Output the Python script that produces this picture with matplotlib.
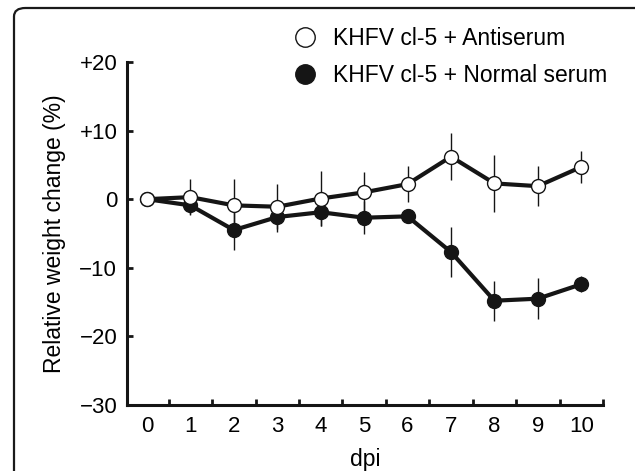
import numpy as np
import matplotlib
matplotlib.use("Agg")
import matplotlib.pyplot as plt
from matplotlib.patches import FancyBboxPatch
from matplotlib.lines import Line2D

plt.rcParams["font.family"] = ["Liberation Sans", "DejaVu Sans"]

# values
days = [0, 1, 2, 3, 4, 5, 6, 7, 8, 9, 10]
anti_mean = [0, 0.3, -0.9, -1.1, 0.1, 1.0, 2.2, 6.2, 2.3, 1.9, 4.7]
anti_sd = [0, 2.6, 3.8, 3.3, 4.0, 2.9, 2.6, 3.4, 4.1, 2.9, 2.3]
norm_mean = [0, -0.9, -4.5, -2.6, -1.9, -2.7, -2.5, -7.7, -14.8, -14.5, -12.4]
norm_sd = [0, 1.2, 2.9, 2.2, 2.0, 2.4, 1.0, 3.6, 2.9, 3.0, 1.2]
ytick_vals = [20, 10, 0, -10, -20, -30]
ytick_labels = ["+20", "+10", "0", "\u221210", "\u221220", "\u221230"]
labels = ["KHFV cl-5 + Antiserum", "KHFV cl-5 + Normal serum"]

fig = plt.figure(figsize=(6.35, 4.71), dpi=100)
ax = fig.add_axes([0.2, 0.1401, 0.7496, 0.7283])

# rounded frame around the panel
frame = FancyBboxPatch((14 / 635, -0.2), 1.2, 1.2 - 8 / 471,
                       boxstyle="round,pad=0,rounding_size=0.018",
                       transform=fig.transFigure, fill=False,
                       edgecolor="#1a1a1a", linewidth=1.6, clip_on=False)
fig.patches.append(frame)

ax.errorbar(days, norm_mean, yerr=norm_sd, color="#151515", linewidth=3,
            elinewidth=1.0, capsize=0, marker="o", markersize=10,
            markerfacecolor="#151515", markeredgecolor="#151515", zorder=3)
ax.errorbar(days, anti_mean, yerr=anti_sd, color="#151515", linewidth=3,
            elinewidth=1.0, capsize=0, marker="o", markersize=10,
            markerfacecolor="white", markeredgecolor="#151515",
            markeredgewidth=1.0, zorder=4)

ax.set_xlim(-0.46, 10.5)
ax.set_ylim(-30, 20)
for s in ["top", "right"]:
    ax.spines[s].set_visible(False)
for s in ["left", "bottom"]:
    ax.spines[s].set_linewidth(2.2)
    ax.spines[s].set_color("#151515")

ax.set_yticks(ytick_vals)
ax.set_yticklabels(ytick_labels)
ax.tick_params(axis="y", direction="in", length=4, width=2, pad=7,
               labelsize=16, color="#151515")
ax.set_xticks(np.arange(0.5, 11, 1))
ax.set_xticklabels([])
ax.tick_params(axis="x", which="major", direction="in", length=4, width=2,
               color="#151515")
ax.set_xticks(days, minor=True)
ax.set_xticklabels([str(d) for d in days], minor=True)
ax.tick_params(axis="x", which="minor", length=0, pad=8, labelsize=16)

ax.set_xlabel("dpi", fontsize=16.5, labelpad=8)
ax.set_ylabel("Relative weight change (%)", fontsize=16.5, labelpad=10)

handles = [
    Line2D([], [], linestyle="none", marker="o", markersize=14,
           markerfacecolor="white", markeredgecolor="#151515",
           markeredgewidth=1.0),
    Line2D([], [], linestyle="none", marker="o", markersize=14,
           markerfacecolor="#151515", markeredgecolor="#151515"),
]
fig.legend(handles, labels, loc="upper left",
           bbox_to_anchor=(294 / 635, 1 - 27 / 471), frameon=False,
           fontsize=16.5, handlelength=1.0, handletextpad=0.72,
           labelspacing=0.6, borderaxespad=0, borderpad=0)

fig.savefig("out.png", dpi=100)
